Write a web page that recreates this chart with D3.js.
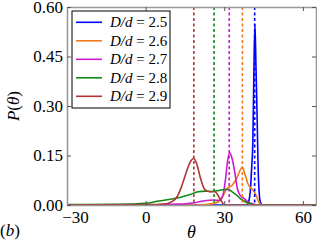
<!DOCTYPE html>
<html>
<head>
<meta charset="utf-8">
<script src="https://cdn.jsdelivr.net/npm/d3@7"></script>
<style>
  body { margin: 0; background: #fff; }
  text { font-family: "Liberation Serif", "DejaVu Serif", serif; fill: #000; }
</style>
</head>
<body>
<svg id="graph" width="317" height="242"></svg>
<script>
// series: D/d ratio, theta samples and P(theta)
var labels = ["2.5", "2.6", "2.7", "2.8", "2.9"]
var colors = ["#0000ff", "#f07a1c", "#cc1ccc", "#108a10", "#b03434"]

var theta25 = [-30, 38.5, 39.3, 40, 40.5, 40.9, 41.3, 41.7, 42.1, 42.5, 42.9, 43.3, 43.8, 44.5, 65]
var p25     = [0, 0, 0.01, 0.05, 0.12, 0.19, 0.40, 0.548, 0.42, 0.28, 0.12, 0.04, 0.008, 0, 0]

var theta26 = [-30, 20, 26, 29, 31, 33, 35, 36, 36.9, 38, 39, 40, 41, 42, 43, 44.5, 65]
var p26     = [0, 0, 0.005, 0.02, 0.05, 0.06, 0.085, 0.105, 0.115, 0.09, 0.065, 0.052, 0.045, 0.032, 0.012, 0, 0]

var theta27 = [-30, 0, 10, 18, 22, 26, 28, 29.5, 30.5, 31.3, 32.1, 33, 34, 35, 36, 37.5, 39, 41, 43, 65]
var p27     = [0, 0, 0.002, 0.006, 0.012, 0.015, 0.014, 0.03, 0.08, 0.135, 0.158, 0.14, 0.1, 0.05, 0.03, 0.02, 0.01, 0.003, 0, 0]

var theta28 = [-30, -10, 0, 5, 10, 14, 17, 20, 23, 25, 28, 30, 31.5, 33, 35, 36, 38, 40, 42, 65]
var p28     = [0.001, 0.002, 0.005, 0.012, 0.018, 0.025, 0.032, 0.04, 0.042, 0.041, 0.044, 0.047, 0.047, 0.04, 0.028, 0.02, 0.01, 0.004, 0, 0]

var theta29 = [-30, 0, 8, 10, 12, 13.2, 14.5, 15.8, 17, 18.3, 19.5, 20.8, 22.3, 23.5, 24.5, 26.4, 28.3, 30.2, 65]
var p29     = [0, 0.001, 0.004, 0.01, 0.025, 0.045, 0.075, 0.106, 0.13, 0.141, 0.125, 0.085, 0.05, 0.042, 0.04, 0.04, 0.02, 0, 0]

// mean angle of each distribution (dashed lines)
var means = [41.6, 36.9, 31.9, 26.1, 18.4]

var xTicks = [-30, 0, 30, 60]
var yTicks = [0, 0.15, 0.30, 0.45, 0.60]

var series = [
    d3.zip(theta25, p25), d3.zip(theta26, p26), d3.zip(theta27, p27),
    d3.zip(theta28, p28), d3.zip(theta29, p29)
]

var margin = { top: 7, right: 1, bottom: 37, left: 67 }
var W = 317, H = 242
var width = W - margin.left - margin.right
var height = H - margin.top - margin.bottom

var svg = d3.select("#graph")
var g = svg.append("g").attr("transform", "translate(" + margin.left + "," + margin.top + ")")

var xScale = d3.scaleLinear().domain([-30, 65]).range([0, width])
var yScale = d3.scaleLinear().domain([0, 0.6]).range([height, 0])

g.append("clipPath").attr("id", "clip")
    .append("rect").attr("width", width).attr("height", height + 1)

var line = d3.line()
    .x(d => xScale(d[0]))
    .y(d => yScale(d[1]))
    .curve(d3.curveMonotoneX)

var plot = g.append("g").attr("clip-path", "url(#clip)")

plot.selectAll(".curve")
    .data(series)
    .enter().append("path")
    .attr("class", "curve")
    .attr("fill", "none")
    .attr("stroke", (d, i) => colors[i])
    .attr("stroke-width", 1.6)
    .attr("d", line)

plot.selectAll(".mean")
    .data(means)
    .enter().append("line")
    .attr("class", "mean")
    .attr("x1", d => xScale(d)).attr("x2", d => xScale(d))
    .attr("y1", 0).attr("y2", height)
    .attr("stroke", (d, i) => colors[i])
    .attr("stroke-width", 1.6)
    .attr("stroke-dasharray", "3,2.5")

// axes, ticks pointing inward like the classic matplotlib style
var fmt = d3.format(".2f")
var xAxis = g.append("g").attr("transform", "translate(0," + height + ")")
    .call(d3.axisBottom(xScale).tickValues(xTicks).tickSizeInner(-4).tickSizeOuter(0)
        .tickPadding(6).tickFormat(d => d < 0 ? "\u2212" + Math.abs(d) : d))
var xTop = g.append("g")
    .call(d3.axisTop(xScale).tickValues(xTicks).tickSizeInner(-4).tickSizeOuter(0).tickFormat(""))
var yAxis = g.append("g")
    .call(d3.axisLeft(yScale).tickValues(yTicks).tickSizeInner(-4).tickSizeOuter(0)
        .tickPadding(4).tickFormat(fmt))
var yRight = g.append("g").attr("transform", "translate(" + width + ",0)")
    .call(d3.axisRight(yScale).tickValues(yTicks).tickSizeInner(-4).tickSizeOuter(0).tickFormat(""))

g.selectAll(".domain").attr("stroke", "#999").attr("stroke-width", 1.6)
g.selectAll(".tick line").attr("stroke", "#555")
g.selectAll(".tick text").style("font-size", "17px").style("font-family", "Liberation Serif")
xAxis.selectAll(".tick text").filter(d => d == -30).attr("dx", 8)

// axis labels
svg.append("text")
    .attr("x", margin.left + width / 2).attr("y", 238)
    .attr("text-anchor", "middle")
    .style("font-size", "18px").style("font-style", "italic")
    .text("\u03b8")

svg.append("text")
    .attr("transform", "translate(19," + (margin.top + height / 2) + ") rotate(-90)")
    .attr("text-anchor", "middle")
    .style("font-size", "17px")
    .call(t => {
        t.append("tspan").style("font-style", "italic").text("P")
        t.append("tspan").text("(")
        t.append("tspan").style("font-style", "italic").text("\u03b8")
        t.append("tspan").text(")")
    })

svg.append("text")
    .attr("x", 0).attr("y", 236)
    .style("font-size", "17px")
    .call(t => {
        t.append("tspan").text("(")
        t.append("tspan").style("font-style", "italic").text("b")
        t.append("tspan").text(")")
    })

// legend
var legend = svg.append("g")
legend.append("rect")
    .attr("x", 72).attr("y", 11).attr("width", 98).attr("height", 97)
    .attr("fill", "#fff").attr("stroke", "#000").attr("stroke-width", 1)

var rows = legend.selectAll(".row")
    .data(labels)
    .enter().append("g")
    .attr("class", "row")
    .attr("transform", (d, i) => "translate(0," + (22.3 + i * 18.5) + ")")

rows.append("line")
    .attr("x1", 76).attr("x2", 102)
    .attr("stroke", (d, i) => colors[i]).attr("stroke-width", 1.6)

rows.append("text")
    .attr("x", 110).attr("y", 5)
    .style("font-size", "15px")
    .call(t => {
        t.append("tspan").style("font-style", "italic").text("D/d")
        t.append("tspan").text(" = ")
        t.append("tspan").text(d => d)
    })
</script>
</body>
</html>
